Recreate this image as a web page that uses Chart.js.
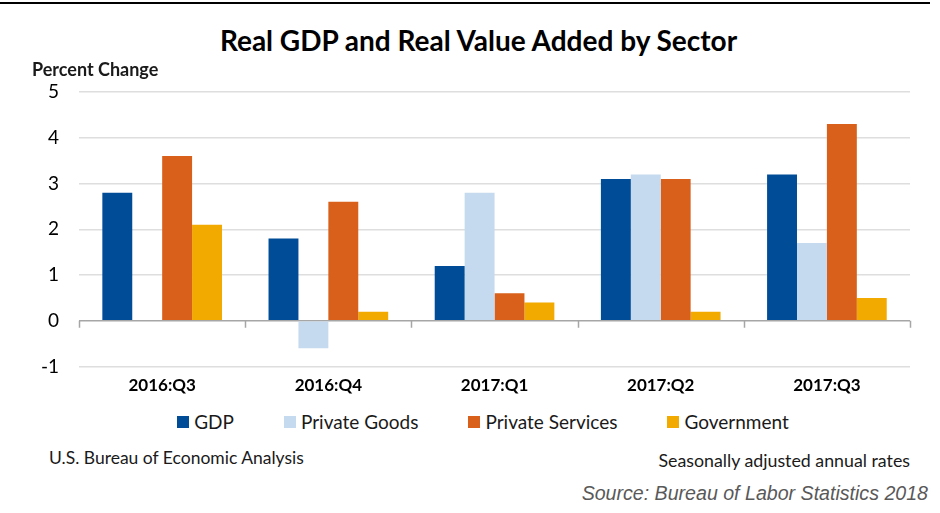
<!DOCTYPE html>
<html>
<head>
<meta charset="utf-8">
<script src="https://cdn.jsdelivr.net/npm/chart.js@4.4.0/dist/chart.umd.min.js"></script>
<style>
  html, body { margin: 0; padding: 0; background: #fff; }
  body { width: 940px; height: 513px; position: relative; overflow: hidden; font-family: Lato, "Open Sans", sans-serif; }
  .topRule { position: absolute; left: 0; top: 2px; width: 930px; height: 2px; background: #000; }
  #wrap { position: absolute; left: 0; top: 0; width: 940px; height: 403px; }
  .title { position: absolute; left: 0; width: 957px; top: 24px; line-height: 32px; text-align: center;
           font-size: 28px; font-weight: bold; color: #000; }
  .note { position: absolute; color: #1a1a1a; white-space: nowrap; }
  .unit { left: 32px; top: 58px; font-size: 18px; font-weight: bold; }
  .bea { left: 49px; top: 447px; font-size: 17.5px; }
  .saar { right: 30px; top: 449px; font-size: 17.8px; }
  .source { right: 12px; top: 482px; font-size: 19.6px; font-style: italic; color: #595959;
            font-family: "Liberation Sans Narrow", "Liberation Sans", sans-serif; }
  #legend { position: absolute; left: 0; width: 966px; top: 410px; display: flex; justify-content: center; }
  #legend .item { display: flex; align-items: center; margin: 0 25px; font-size: 19px; color: #1a1a1a; }
  #legend .box { width: 12px; height: 12px; margin-right: 5px; }
</style>
</head>
<body>
<div class="topRule"></div>
<div class="title">Real GDP and Real Value Added by Sector</div>
<div id="wrap"><canvas id="gdpChart"></canvas></div>
<div id="legend"></div>
<div class="note unit">Percent Change</div>
<div class="note bea">U.S. Bureau of Economic Analysis</div>
<div class="note saar">Seasonally adjusted annual rates</div>
<div class="note source">Source: Bureau of Labor Statistics 2018</div>

<script>
// quarterly percent change, seasonally adjusted annual rates
const quarters = ['2016:Q3', '2016:Q4', '2017:Q1', '2017:Q2', '2017:Q3'];
const gdp = [2.8, 1.8, 1.2, 3.1, 3.2];
const privateGoods = [0, -0.6, 2.8, 3.2, 1.7];
const privateServices = [3.6, 2.6, 0.6, 3.1, 4.3];
const government = [2.1, 0.2, 0.4, 0.2, 0.5];

const yMin = -1, yMax = 5, yStep = 1;

// small tick marks hanging from the zero line between quarters
const zeroTicks = {
  id: 'zeroTicks',
  beforeDatasetsDraw(chart) {
    const x = chart.scales.x, y = chart.scales.y;
    const y0 = y.getPixelForValue(0);
    const half = (x.getPixelForValue(1) - x.getPixelForValue(0)) / 2;
    const c = chart.ctx;
    c.save();
    c.strokeStyle = '#a6a6a6';
    c.lineWidth = 1.5;
    c.beginPath();
    for (let i = 0; i <= quarters.length; i++) {
      const px = Math.round(x.getPixelForValue(i) - half) + 0.5;
      c.moveTo(px, y0);
      c.lineTo(px, y0 + 7);
    }
    c.stroke();
    c.restore();
  }
};

// legend built as html so the items can sit wide apart in one row
const htmlLegend = {
  id: 'htmlLegend',
  afterUpdate(chart) {
    const box = document.getElementById('legend');
    box.innerHTML = '';
    const items = chart.options.plugins.legend.labels.generateLabels(chart);
    items.forEach(item => {
      const el = document.createElement('div');
      el.className = 'item';
      el.innerHTML = `<span class="box" style="background:${item.fillStyle}"></span>${item.text}`;
      box.appendChild(el);
    });
  }
};

window.addEventListener('load', () => {
  const ctx = document.getElementById('gdpChart');
  new Chart(ctx, {
    type: 'bar',
    data: {
      labels: quarters,
      datasets: [
        { label: 'GDP', data: gdp, backgroundColor: '#004c97' },
        { label: 'Private Goods', data: privateGoods, backgroundColor: '#c5d9ef' },
        { label: 'Private Services', data: privateServices, backgroundColor: '#d9601a' },
        { label: 'Government', data: government, backgroundColor: '#f2a900' }
      ]
    },
    options: {
      responsive: true,
      maintainAspectRatio: false,
      animation: false,
      layout: { padding: { left: 21, right: 30, top: 92, bottom: 6 } },
      datasets: { bar: { categoryPercentage: 0.72, barPercentage: 1.0 } },
      plugins: {
        tooltip: { enabled: false },
        legend: { display: false },
        title: { display: false }
      },
      scales: {
        x: {
          grid: { display: false },
          border: { display: false },
          ticks: { color: '#000', font: { family: 'Lato', size: 17, weight: 'bold' }, padding: 1 }
        },
        y: {
          min: yMin,
          max: yMax,
          ticks: { stepSize: yStep, color: '#000', font: { family: 'Lato', size: 19 }, padding: 20 },
          border: { display: false },
          grid: {
            drawTicks: false,
            lineWidth: 1.5,
            color: c => c.tick && c.tick.value === 0 ? '#a6a6a6' : '#dedede'
          }
        }
      }
    },
    plugins: [zeroTicks, htmlLegend]
  });
});
</script>
</body>
</html>
